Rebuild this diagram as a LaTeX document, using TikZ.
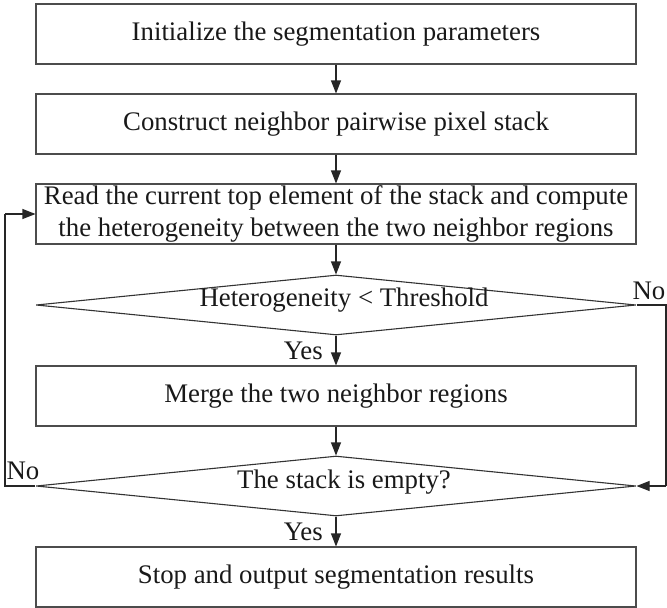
\documentclass[tikz,border=0pt]{standalone}
\usepackage{fontspec}
\setmainfont{Liberation Serif}
\usetikzlibrary{arrows.meta,shapes.geometric}
\begin{document}
\begin{tikzpicture}[x=1pt,y=-1pt,
  every node/.style={font=\fontsize{26.8}{32}\selectfont, text=black!90},
  procbox/.style={draw=black!70, line width=1.1pt, rectangle, minimum width=600pt, minimum height=60pt, inner sep=0pt, align=center},
  decbox/.style={draw=black!80, line width=1.1pt, diamond, aspect=10, minimum width=600pt, minimum height=60pt, inner sep=0pt},
  arr/.style={draw=black!85, line width=1.1pt, -{Triangle[length=13pt,width=10pt]}},
  lnk/.style={draw=black!85, line width=1.1pt},
  lbl/.style={inner sep=0pt}
]
\useasboundingbox (0,0) rectangle (667,608);
\node[procbox] (b1) at (336,34) {Initialize the segmentation parameters};
\node[procbox] (b2) at (336,124) {Construct neighbor pairwise pixel stack};
\node[procbox] (b3) at (336,214) {Read the current top element of the stack and compute\\the heterogeneity between the two neighbor regions};
\node[decbox] (d1) at (336,305) {};
\node at (344,300) {Heterogeneity < Threshold};
\node[procbox] (b4) at (336,396) {Merge the two neighbor regions};
\node[decbox] (d2) at (336,486) {};
\node at (344,482) {The stack is empty?};
\node[procbox] (b5) at (336,577) {Stop and output segmentation results};

\coordinate (rl1) at (666,305);
\coordinate (rl2) at (666,486);
\coordinate (ll1) at (5,486);
\coordinate (ll2) at (5,214);

\draw[arr] (b1) -- (b2);
\draw[arr] (b2) -- (b3);
\draw[arr] (b3) -- (d1);
\draw[arr] (d1.south) -- (b4.north);
\draw[arr] (b4) -- (d2);
\draw[arr] (d2.south) -- (b5.north);
\draw[lnk] (d1.east) -- (rl1) -- (rl2);
\draw[arr] (rl2) -- (d2.east);
\draw[lnk] (d2.west) -- (ll1) -- (ll2);
\draw[arr] (ll2) -- (b3.west);

\node[lbl, anchor=east] (y1) at (323,351) {Yes};
\node[lbl, anchor=east] (y2) at (323,532) {Yes};
\node[lbl] (n1) at (649,291) {No};
\node[lbl] (n2) at (23,471) {No};
\end{tikzpicture}
\end{document}
